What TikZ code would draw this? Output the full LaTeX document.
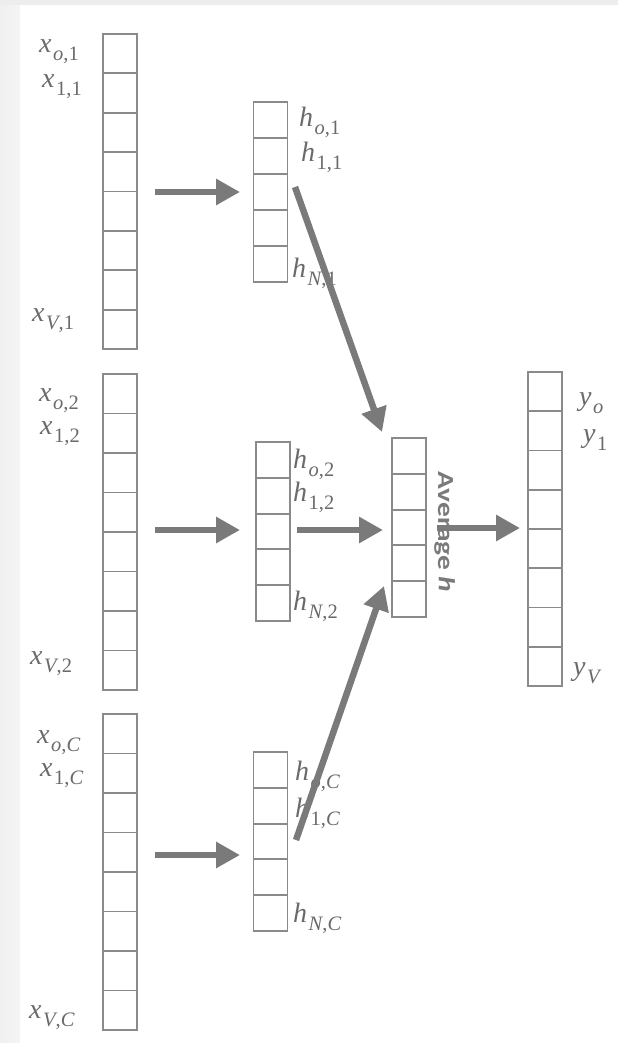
\documentclass[tikz,border=0pt]{standalone}
\usepackage{fontspec}
\newfontfamily\calib{Carlito}
\newfontfamily\lbf{Liberation Serif}
\usetikzlibrary{arrows.meta,calc}
\definecolor{boxgray}{HTML}{8A8A8A}
\definecolor{arrgray}{HTML}{7A7A7A}
\definecolor{txtgray}{HTML}{6A6A6A}
% label: main italic letter with a lowered subscript
\newcommand\lbl[2]{{\lbf\fontsize{28}{30}\selectfont\itshape #1}\kern1.5pt\raisebox{-8pt}{\lbf\fontsize{20.5}{22}\selectfont #2}}
\begin{document}
\begin{tikzpicture}[x=1pt,y=-1pt,
  vec/.style={draw=boxgray, line width=1.9pt, minimum width=34pt, inner sep=0pt, outer sep=0pt},
  lab/.style={anchor=base west, inner sep=0pt, text=txtgray},
  bigarrow/.style={draw=arrgray, line width=6.5pt, -{Triangle[length=24pt,width=25pt]}}
]
% background
\fill[white] (0,0) rectangle (618,1043);
\fill[left color=gray!12, right color=gray!8] (0,0) rectangle (20,1043);
\fill[gray!14] (0,0) rectangle (618,5);
\useasboundingbox (0,0) rectangle (618,1043);

% vector columns: name, center x, center y, height, cells, cells-1
\foreach \nm/\cx/\cy/\hh/\nn/\mm in {in1/120/191.5/315/8/7, in2/120/532/316/8/7, in3/120/872/316/8/7,
   hid1/270.5/192/180/5/4, hid2/273/531.5/179/5/4, hid3/270.5/841.5/179/5/4,
   avg/409/527.5/179/5/4, out/545/529/314/8/7}{
  \node[vec, minimum height=\hh pt] (\nm) at (\cx,\cy) {};
  \foreach \k in {1,...,\mm}{
    \draw[boxgray, line width=1.9pt] ($(\nm.north west)!{\k/\nn}!(\nm.south west)$) -- ($(\nm.north east)!{\k/\nn}!(\nm.south east)$);
  }
}

% labels x
\node[lab] (lx01) at (39,53) {\lbl{x}{\textit{o},1}};
\node[lab] (lx11) at (42,88) {\lbl{x}{1,1}};
\node[lab] (lxV1) at (32,321) {\lbl{x}{\textit{V},1}};
\node[lab] (lx02) at (39,401) {\lbl{x}{\textit{o},2}};
\node[lab] (lx12) at (40,434) {\lbl{x}{1,2}};
\node[lab] (lxV2) at (30,664) {\lbl{x}{\textit{V},2}};
\node[lab] (lx0C) at (37,743) {\lbl{x}{\textit{o},\textit{C}}};
\node[lab] (lx1C) at (40,776) {\lbl{x}{1,\textit{C}}};
\node[lab] (lxVC) at (29,1018) {\lbl{x}{\textit{V},\textit{C}}};
% labels h
\node[lab] (lh01) at (299,127) {\lbl{h}{\textit{o},1}};
\node[lab] (lh11) at (301,162) {\lbl{h}{1,1}};
\node[lab] (lhN1) at (292,277) {\lbl{h}{\textit{N},1}};
\node[lab] (lh02) at (293,468) {\lbl{h}{\textit{o},2}};
\node[lab] (lh12) at (293,501) {\lbl{h}{1,2}};
\node[lab] (lhN2) at (293,610) {\lbl{h}{\textit{N},2}};
\node[lab] (lh0C) at (295,780) {\lbl{h}{\textit{o},\textit{C}}};
\node[lab] (lh1C) at (295,817) {\lbl{h}{1,\textit{C}}};
\node[lab] (lhNC) at (293,922) {\lbl{h}{\textit{N},\textit{C}}};
% labels y
\node[lab] (ly0) at (579,405) {\lbl{y}{\textit{o}}};
\node[lab] (ly1) at (583,442) {\lbl{y}{1}};
\node[lab] (lyV) at (573,675) {\lbl{y}{\textit{V}}};

% Average h
\node[rotate=-90, text=arrgray, inner sep=0pt] (avgtxt) at (445,532)
  {\scalebox{1.28}[1]{\calib\fontsize{23}{26}\selectfont\bfseries Average \textit{h}}};

% arrow end points
\coordinate (a1s) at (155,192); \coordinate (a1e) at (240,192);
\coordinate (a2s) at (155,530); \coordinate (a2e) at (240,530);
\coordinate (a3s) at (155,855); \coordinate (a3e) at (240,855);
\coordinate (d1s) at (295,187); \coordinate (d1e) at (382,432);
\coordinate (d2s) at (297,530); \coordinate (d2e) at (383,530);
\coordinate (d3s) at (296,840); \coordinate (d3e) at (384,586);
\coordinate (os) at (437,528); \coordinate (oe) at (520,528);

\draw[bigarrow] (a1s) -- (a1e);
\draw[bigarrow] (a2s) -- (a2e);
\draw[bigarrow] (a3s) -- (a3e);
\draw[bigarrow] (d1s) -- (d1e);
\draw[bigarrow] (d2s) -- (d2e);
\draw[bigarrow] (d3s) -- (d3e);
\draw[bigarrow] (os) -- (oe);
\end{tikzpicture}
\end{document}
